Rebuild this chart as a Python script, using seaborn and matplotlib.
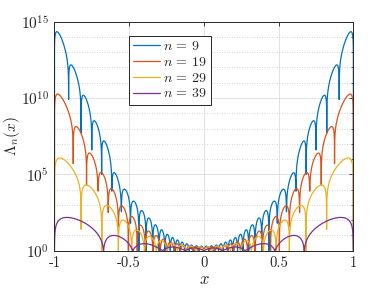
import numpy as np
import pandas as pd
import matplotlib
matplotlib.use("Agg")
import matplotlib.pyplot as plt
import seaborn as sns

# Left half of every curve (the right half is its mirror image).
# nodes: x where Lambda_n(x) = 1, lobes: log10 height of each lobe between nodes,
# dips: log10 value the plotted spike reaches at each node
nodes_9 = [-1, -0.905, -0.822, -0.750, -0.684, -0.616, -0.552, -0.491, -0.435,
           -0.387, -0.342, -0.300, -0.261, -0.225, -0.192, -0.160, -0.129, -0.098,
           -0.066, -0.033, 0]
lobes_9 = [13.9, 11.8, 9.9, 8.3, 6.9, 4.9, 3.95, 3.2, 2.6, 2.12, 1.68, 1.36, 1.07,
           0.86, 0.7, 0.56, 0.45, 0.37, 0.32, 0.3]
dips_9 = [0, 9.9, 7.7, 6.6, 5.0, 3.9, 2.55, 1.8, 0, 0, 0, 0, 0, 0, 0, 0, 0, 0,
          0, 0, 0]

nodes_19 = [-1, -0.874, -0.785, -0.708, -0.640, -0.572, -0.505, -0.446, -0.392,
            -0.341, -0.292, -0.245, -0.200, -0.157, -0.116, -0.076, -0.038, 0]
lobes_19 = [9.8, 7.85, 6.2, 5.0, 3.95, 2.85, 2.2, 1.65, 1.28, 0.98, 0.75, 0.57,
            0.45, 0.36, 0.3, 0.26, 0.24]
dips_19 = [0, 5.7, 4.3, 3.9, 2.5, 1.6, 0, 0, 0, 0, 0, 0, 0, 0, 0, 0, 0, 0]

nodes_29 = [-1, -0.821, -0.683, -0.572, -0.483, -0.398, -0.318, -0.245, -0.177,
            -0.114, -0.056, 0]
lobes_29 = [5.75, 4.1, 2.85, 1.95, 1.33, 0.92, 0.66, 0.48, 0.37, 0.3, 0.26]
dips_29 = [0, 1.4, 0, 0, 0, 0, 0, 0, 0, 0, 0, 0]

nodes_39 = [-1, -0.671, -0.475, -0.275, -0.125, 0]
lobes_39 = [2.0, 0.95, 0.44, 0.24, 0.18]
dips_39 = [0, 0, 0, 0, 0, 0]

labels = [r"$n\,=\,9$", r"$n\,=\,19$", r"$n\,=\,29$", r"$n\,=\,39$"]
colors = ["#0072BD", "#D95319", "#EDB120", "#7E2F8E"]


def build_curve(nodes, lobes, dips):
    nodes = np.asarray(nodes, float)
    xn = np.concatenate([nodes, -nodes[-2::-1]])
    h = np.concatenate([lobes, lobes[::-1]])
    d = np.concatenate([dips, dips[-2::-1]])
    mids = (xn[:-1] + xn[1:]) / 2
    slope = np.gradient(h, mids)
    u = np.linspace(0, 1, 160)
    t = (1 - np.cos(np.pi * u)) / 2
    xs, ys = [], []
    for k in range(len(h)):
        a, b = xn[k], xn[k + 1]
        x = a + (b - a) * t
        e = np.clip(h[k] + slope[k] * (x - mids[k]), 0, None)
        ly = np.log10(1 + (10 ** e - 1) * np.sin(np.pi * t))
        floor = np.where(t < 0.5, d[k], d[k + 1])
        ly = np.maximum(ly, floor)
        if k < len(h) - 1:
            x, ly = x[:-1], ly[:-1]
        xs.append(x)
        ys.append(ly)
    return np.concatenate(xs), 10 ** np.concatenate(ys)


frames = []
for lab, (nd, lb, dp) in zip(labels, [(nodes_9, lobes_9, dips_9),
                                      (nodes_19, lobes_19, dips_19),
                                      (nodes_29, lobes_29, dips_29),
                                      (nodes_39, lobes_39, dips_39)]):
    x, y = build_curve(nd, lb, dp)
    frames.append(pd.DataFrame({"x": x, "y": y, "curve": lab}))
df = pd.concat(frames, ignore_index=True)

sns.set_theme(style="white")
plt.rcParams["font.family"] = ["cmr10", "DejaVu Serif"]
plt.rcParams["mathtext.fontset"] = "cm"
plt.rcParams["axes.formatter.use_mathtext"] = True

fig = plt.figure(figsize=(3.9, 2.93), dpi=100)
ax = fig.add_axes([0.1395, 0.1444, 0.7666, 0.7816])

sns.lineplot(data=df, x="x", y="y", hue="curve", hue_order=labels,
             palette=colors, sort=False, estimator=None, linewidth=0.9,
             legend=False, ax=ax)

ax.set_yscale("log")
ax.set_xlim(-1, 1)
ax.set_ylim(1, 1e15)

ax.set_xticks([-1, -0.5, 0, 0.5, 1])
ax.set_xticklabels(["-1", "-0.5", "0", "0.5", "1"], fontsize=10.5)
ax.set_yticks([1, 1e5, 1e10, 1e15])
ax.set_yticklabels(["$10^{0}$", "$10^{5}$", "$10^{10}$", "$10^{15}$"], fontsize=11)
ax.set_yticks([10.0 ** k for k in range(16)], minor=True)
ax.yaxis.set_minor_formatter(matplotlib.ticker.NullFormatter())

ax.tick_params(which="both", direction="in", top=True, right=True,
               color="#262626", width=0.6)
ax.tick_params(which="major", length=3, pad=4)
ax.tick_params(which="minor", length=1.6)

ax.grid(True, which="major", axis="both", color="#dcdcdc", linewidth=0.6)
ax.grid(True, which="minor", axis="y", color="#c8c8c8", linewidth=0.6,
        linestyle=(0, (1, 2)))
ax.set_axisbelow(True)

for s in ax.spines.values():
    s.set_color("#262626")
    s.set_linewidth(0.7)

ax.set_xlabel("$x$", fontsize=12, labelpad=1)
ax.set_ylabel(r"$\Lambda_n(x)$", fontsize=11)
ax.yaxis.set_label_coords(-0.11, 0.5)

leg = ax.legend(ax.lines[:4], labels, loc="upper left",
                bbox_to_anchor=(0.25, 0.9376), borderaxespad=0,
                fontsize=10, frameon=True, fancybox=False, framealpha=1,
                handlelength=1.9, handletextpad=0.25, labelspacing=0.2,
                borderpad=0.3)
leg.get_frame().set_edgecolor("#262626")
leg.get_frame().set_linewidth(0.7)

fig.savefig("out.png", dpi=100)
